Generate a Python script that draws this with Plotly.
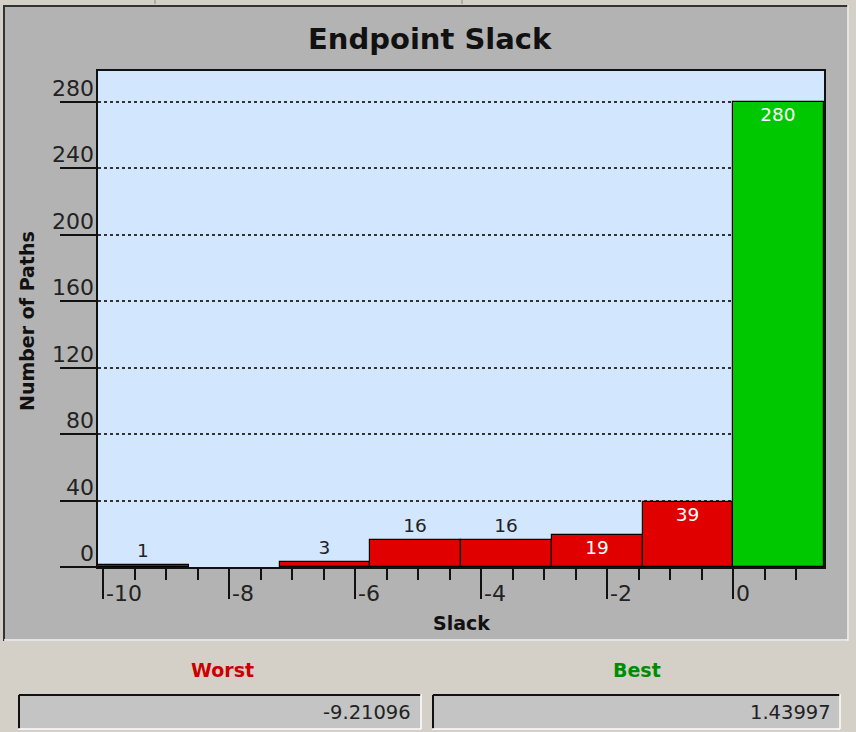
import plotly.graph_objects as go

# ---- data ----
TITLE = "Endpoint Slack"
X_TITLE = "Slack"
Y_TITLE = "Number of Paths"
WORST = -9.21096
BEST = 1.43997
counts = [1, 0, 3, 16, 16, 19, 39, 280]
bar_colors = ["#e00000"] * 7 + ["#00c800"]
label_pos = ["outside", "none", "outside", "outside", "outside", "inside", "inside", "inside"]
y_ticks = [0, 40, 80, 120, 160, 200, 240, 280]
x_ticks = [-10, -8, -6, -4, -2, 0]

# ---- geometry ----
W, H = 856, 732
L, R, T, B = 98, 824, 71, 567


def px(x):
    return (x - L) / (R - L)


def py(y):
    return (B - y) / (B - T)


bin_w = BEST
n = len(counts)
first = -(n - 1)
edges = [bin_w * k for k in range(first, first + n + 1)]
centers = [(edges[i] + edges[i + 1]) / 2 for i in range(n)]
vals = [c if c > 0 else None for c in counts]
texts = [str(c) if c > 0 else "" for c in counts]

FONT = "DejaVu Sans"
BEIGE = "#d4d0c8"

fig = go.Figure()
fig.add_trace(go.Bar(
    x=centers, y=vals, width=[bin_w] * n,
    marker=dict(color=bar_colors, line=dict(color="black", width=1.2)),
    text=texts, textposition=label_pos, insidetextanchor="end",
    insidetextfont=dict(color="white", size=18.5, family=FONT),
    outsidetextfont=dict(color="#222", size=18.5, family=FONT),
    constraintext="none", cliponaxis=False, hoverinfo="skip",
))


def rect(x0, x1, y0, y1, color):
    return dict(type="rect", xref="paper", yref="paper", layer="below",
                x0=px(x0), x1=px(x1), y0=py(y1), y1=py(y0),
                fillcolor=color, line=dict(width=0))


def line(x0, y0, x1, y1, color, w):
    return dict(type="line", xref="paper", yref="paper", layer="below",
                x0=px(x0), x1=px(x1), y0=py(y0), y1=py(y1), line=dict(color=color, width=w))


shapes = []
# beige surroundings of the gray chart panel (paper bg is gray)
shapes.append(rect(0, W, 641, H, BEIGE))
shapes.append(rect(0, W, 0, 5, BEIGE))
shapes.append(rect(849, W, 0, H, BEIGE))
shapes.append(rect(0, 3, 0, H, BEIGE))
# panel borders
shapes.append(line(4, 641, 4, 5, "#333", 2))
shapes.append(line(4, 6, 848, 6, "#333", 2))
shapes.append(line(848, 641, 848, 5, "#f4f4f4", 1.5))
shapes.append(line(4, 640, 848, 640, "#f4f4f4", 1.5))
for xx in (155, 462):
    shapes.append(line(xx, 0, xx, 4, "#888", 1))
# value boxes
for x0, x1 in ((18, 421), (432, 840)):
    shapes.append(rect(x0, x1, 694, 729, "#c4c4c4"))
    shapes.append(line(x0 + 1, 695, x1, 695, "#111", 2))
    shapes.append(line(x0 + 1, 729, x0 + 1, 695, "#111", 2))
    shapes.append(line(x0, 729, x1, 729, "#ffffff", 1.5))
    shapes.append(line(x1, 729, x1, 694, "#ffffff", 1.5))

ann = []
ann.append(dict(text="<b>%s</b>" % TITLE, xref="paper", yref="paper", x=px(430), y=py(39),
                xanchor="center", yanchor="middle", showarrow=False,
                font=dict(size=29, color="#111", family=FONT)))
ann.append(dict(text="<b>%s</b>" % Y_TITLE, xref="paper", yref="paper", x=px(27), y=py(321),
                xanchor="center", yanchor="middle", showarrow=False, textangle=-90,
                font=dict(size=19, color="#111", family=FONT)))
ann.append(dict(text="<b>%s</b>" % X_TITLE, xref="paper", yref="paper", x=px(461), y=py(623),
                xanchor="center", yanchor="middle", showarrow=False,
                font=dict(size=19, color="#111", family=FONT)))
for v in y_ticks:
    ann.append(dict(text=str(v), xref="paper", yref="y", x=px(96), y=v,
                    xanchor="right", yanchor="bottom", yshift=-1, showarrow=False,
                    font=dict(size=22, color="#222", family=FONT)))
for v in x_ticks:
    ann.append(dict(text=str(v), xref="x", yref="paper", x=v, y=py(593),
                    xanchor="left", yanchor="middle", xshift=1, showarrow=False,
                    font=dict(size=22, color="#222", family=FONT)))
ann.append(dict(text="<b>Worst</b>", xref="paper", yref="paper", x=px(222), y=py(670),
                xanchor="center", yanchor="middle", showarrow=False,
                font=dict(size=19, color="#cc0000", family=FONT)))
ann.append(dict(text="<b>Best</b>", xref="paper", yref="paper", x=px(637), y=py(670),
                xanchor="center", yanchor="middle", showarrow=False,
                font=dict(size=19, color="#008c00", family=FONT)))
ann.append(dict(text="%.5f" % WORST, xref="paper", yref="paper", x=px(413), y=py(712),
                xanchor="right", yanchor="middle", showarrow=False,
                font=dict(size=19.5, color="#222", family=FONT)))
ann.append(dict(text="%.5f" % BEST, xref="paper", yref="paper", x=px(833), y=py(712),
                xanchor="right", yanchor="middle", showarrow=False,
                font=dict(size=19.5, color="#222", family=FONT)))

fig.update_layout(
    width=W, height=H,
    margin=dict(l=L, r=W - R, t=T, b=H - B, pad=0),
    paper_bgcolor="#b3b3b3", plot_bgcolor="#d2e7fd",
    showlegend=False, bargap=0,
    font=dict(family=FONT, color="#222"),
    shapes=shapes, annotations=ann,
    xaxis=dict(range=[edges[0], edges[-1]], showgrid=False, zeroline=False,
               showline=True, mirror=True, linecolor="#111", linewidth=2,
               tickmode="array", tickvals=x_ticks, showticklabels=False,
               ticks="outside", ticklen=30, tickwidth=2, tickcolor="#111",
               minor=dict(tickmode="linear", tick0=0, dtick=0.5, ticks="outside",
                          ticklen=11, tickwidth=2, tickcolor="#111", showgrid=False)),
    yaxis=dict(range=[0, 298.7], showgrid=True, gridcolor="#333", griddash="dot", gridwidth=1.5,
               zeroline=False, showline=True, mirror=True, linecolor="#111", linewidth=2,
               tickmode="array", tickvals=y_ticks, showticklabels=False,
               ticks="outside", ticklen=36, tickwidth=2, tickcolor="#111"),
)

fig.write_html("out.html")
